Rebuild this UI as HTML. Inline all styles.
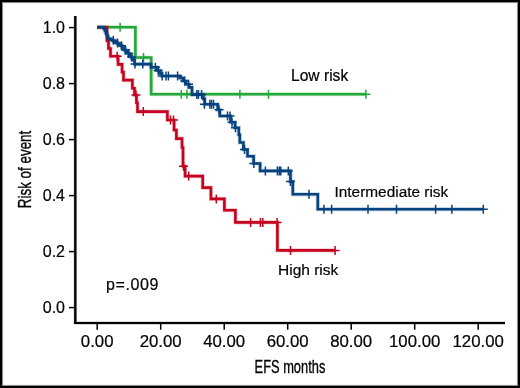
<!DOCTYPE html>
<html><head><meta charset="utf-8"><style>
html,body{margin:0;padding:0;background:#fff;}
.wrap{position:relative;width:520px;height:388px;overflow:hidden;background:#000;}
svg{position:absolute;left:0;top:0;}
.tx{will-change:transform;}
.t{font-family:"Liberation Sans",sans-serif;font-size:16px;fill:#000;stroke:#000;stroke-width:0.2px;}
.c{font-family:"Liberation Sans",sans-serif;font-size:18px;fill:#000;stroke:#000;stroke-width:0.35px;}
</style></head><body><div class="wrap">
<svg width="520" height="388" viewBox="0 0 520 388">
<g>
<rect x="0" y="0" width="520" height="388" fill="#000"/>
<rect x="2" y="2" width="516" height="384" fill="#8c8c8c"/>
<rect x="3" y="3" width="514" height="382" fill="#f6f6f6"/>
<rect x="4" y="4" width="512" height="380" fill="#fff"/>
<path d="M75.3,16V324M74.2,323H505" stroke="#000" stroke-width="3.6" fill="none" opacity="0.2"/>
<path d="M75.3,16V324" stroke="#000" stroke-width="2.3" fill="none"/>
<path d="M74.2,323H505" stroke="#000" stroke-width="2" fill="none"/>
<path d="M69,307.6H75" stroke="#000" stroke-width="1.5"/>
<path d="M69,251.6H75" stroke="#000" stroke-width="1.5"/>
<path d="M69,195.6H75" stroke="#000" stroke-width="1.5"/>
<path d="M69,139.6H75" stroke="#000" stroke-width="1.5"/>
<path d="M69,83.6H75" stroke="#000" stroke-width="1.5"/>
<path d="M69,27.6H75" stroke="#000" stroke-width="1.5"/>
<path d="M97.2,323V329.7" stroke="#000" stroke-width="1.5"/>
<path d="M160.7,323V329.7" stroke="#000" stroke-width="1.5"/>
<path d="M224.2,323V329.7" stroke="#000" stroke-width="1.5"/>
<path d="M287.7,323V329.7" stroke="#000" stroke-width="1.5"/>
<path d="M351.2,323V329.7" stroke="#000" stroke-width="1.5"/>
<path d="M414.7,323V329.7" stroke="#000" stroke-width="1.5"/>
<path d="M478.2,323V329.7" stroke="#000" stroke-width="1.5"/>
<path d="M97,27.2H135.4V57.5H151.2V94.2H365.9" stroke="#24a83a" stroke-width="4.2" fill="none" opacity="0.22" stroke-linejoin="miter" stroke-linecap="butt"/><path d="M97,27.2H135.4V57.5H151.2V94.2H365.9" stroke="#24a83a" stroke-width="2.6" fill="none" stroke-linejoin="miter" stroke-linecap="butt"/>
<path d="M115.60,27.20H124.60M120.10,22.70V31.70" stroke="#24a83a" stroke-width="1.5" fill="none"/>
<path d="M139.00,57.50H148.00M143.50,53.00V62.00" stroke="#24a83a" stroke-width="1.5" fill="none"/>
<path d="M176.80,94.20H185.80M181.30,89.70V98.70" stroke="#24a83a" stroke-width="1.5" fill="none"/>
<path d="M182.40,94.20H191.40M186.90,89.70V98.70" stroke="#24a83a" stroke-width="1.5" fill="none"/>
<path d="M235.40,94.20H244.40M239.90,89.70V98.70" stroke="#24a83a" stroke-width="1.5" fill="none"/>
<path d="M264.00,94.20H273.00M268.50,89.70V98.70" stroke="#24a83a" stroke-width="1.5" fill="none"/>
<path d="M361.40,94.20H370.40M365.90,89.70V98.70" stroke="#24a83a" stroke-width="1.5" fill="none"/>
<path d="M97,27.2H107V40.8H108.5V48.5H110.5V56.2H118.1V64.4H122.1V72H123.5V80.1H132.4V88.2H134.5V95H136.5V102.7H137.5V111.6H167.4V120H174.1V130H176.4V138.6H182V147.5H183V166.3H185.1V176.1H202.7V187.6H210.9V198.9H224.4V210.2H235.4V222.4H277.4V250.4H335.1" stroke="#c3031f" stroke-width="4.2" fill="none" opacity="0.22" stroke-linejoin="miter" stroke-linecap="butt"/><path d="M97,27.2H107V40.8H108.5V48.5H110.5V56.2H118.1V64.4H122.1V72H123.5V80.1H132.4V88.2H134.5V95H136.5V102.7H137.5V111.6H167.4V120H174.1V130H176.4V138.6H182V147.5H183V166.3H185.1V176.1H202.7V187.6H210.9V198.9H224.4V210.2H235.4V222.4H277.4V250.4H335.1" stroke="#c3031f" stroke-width="2.6" fill="none" stroke-linejoin="miter" stroke-linecap="butt"/>
<path d="M112.70,56.20H121.70M117.20,51.70V60.70" stroke="#c3031f" stroke-width="1.5" fill="none"/>
<path d="M131.50,95.00H140.50M136.00,90.50V99.50" stroke="#c3031f" stroke-width="1.5" fill="none"/>
<path d="M138.80,111.60H147.80M143.30,107.10V116.10" stroke="#c3031f" stroke-width="1.5" fill="none"/>
<path d="M166.00,120.00H175.00M170.50,115.50V124.50" stroke="#c3031f" stroke-width="1.5" fill="none"/>
<path d="M169.00,120.00H178.00M173.50,115.50V124.50" stroke="#c3031f" stroke-width="1.5" fill="none"/>
<path d="M179.00,166.30H188.00M183.50,161.80V170.80" stroke="#c3031f" stroke-width="1.5" fill="none"/>
<path d="M184.20,176.10H193.20M188.70,171.60V180.60" stroke="#c3031f" stroke-width="1.5" fill="none"/>
<path d="M211.80,198.90H220.80M216.30,194.40V203.40" stroke="#c3031f" stroke-width="1.5" fill="none"/>
<path d="M246.10,222.40H255.10M250.60,217.90V226.90" stroke="#c3031f" stroke-width="1.5" fill="none"/>
<path d="M255.90,222.40H264.90M260.40,217.90V226.90" stroke="#c3031f" stroke-width="1.5" fill="none"/>
<path d="M258.30,222.40H267.30M262.80,217.90V226.90" stroke="#c3031f" stroke-width="1.5" fill="none"/>
<path d="M272.60,222.40H281.60M277.10,217.90V226.90" stroke="#c3031f" stroke-width="1.5" fill="none"/>
<path d="M286.00,250.40H295.00M290.50,245.90V254.90" stroke="#c3031f" stroke-width="1.5" fill="none"/>
<path d="M330.60,250.40H339.60M335.10,245.90V254.90" stroke="#c3031f" stroke-width="1.5" fill="none"/>
<path d="M97,27.2H104V29H105V31H106V33.5H107V36H108V38.5H109.40V39.05H110.80V39.66H112.20V40.43H113.60V41.20H115.00V41.97H116.40V42.84H117.80V43.78H119.20V44.72H120.60V45.67H122.00V47.17H123.40V48.76H124.80V50.33H126.20V51.82H127.60V53.31H129.00V54.89H130.40V56.47H131.80V58.17H133.20V59.89H134.60V64.10H135.20V64.10H151V67.3H157.5V70.5H160V73.5H162V76H180V78H183V81H186V84.3H189V87.4H192V94.6H203.3V98.7H204.7V104.3H217.7V109.8H219.8V116H230.6V122.2H235V127.8H238.8V134.8H239.8V142.5H243.4V149.5H247.5V156.2H253.6V163.5H260.1V170.9H290.5V181.6H292.8V194.3H317.8V209.2H483.3" stroke="#06427e" stroke-width="4.2" fill="none" opacity="0.22" stroke-linejoin="miter" stroke-linecap="butt"/><path d="M97,27.2H104V29H105V31H106V33.5H107V36H108V38.5H109.40V39.05H110.80V39.66H112.20V40.43H113.60V41.20H115.00V41.97H116.40V42.84H117.80V43.78H119.20V44.72H120.60V45.67H122.00V47.17H123.40V48.76H124.80V50.33H126.20V51.82H127.60V53.31H129.00V54.89H130.40V56.47H131.80V58.17H133.20V59.89H134.60V64.10H135.20V64.10H151V67.3H157.5V70.5H160V73.5H162V76H180V78H183V81H186V84.3H189V87.4H192V94.6H203.3V98.7H204.7V104.3H217.7V109.8H219.8V116H230.6V122.2H235V127.8H238.8V134.8H239.8V142.5H243.4V149.5H247.5V156.2H253.6V163.5H260.1V170.9H290.5V181.6H292.8V194.3H317.8V209.2H483.3" stroke="#06427e" stroke-width="2.6" fill="none" stroke-linejoin="miter" stroke-linecap="butt"/>
<path d="M108.80,40.30H117.80M113.30,35.80V44.80" stroke="#06427e" stroke-width="1.5" fill="none"/>
<path d="M113.00,42.90H122.00M117.50,38.40V47.40" stroke="#06427e" stroke-width="1.5" fill="none"/>
<path d="M117.00,45.80H126.00M121.50,41.30V50.30" stroke="#06427e" stroke-width="1.5" fill="none"/>
<path d="M121.00,50.00H130.00M125.50,45.50V54.50" stroke="#06427e" stroke-width="1.5" fill="none"/>
<path d="M124.20,53.40H133.20M128.70,48.90V57.90" stroke="#06427e" stroke-width="1.5" fill="none"/>
<path d="M127.10,57.00H136.10M131.60,52.50V61.50" stroke="#06427e" stroke-width="1.5" fill="none"/>
<path d="M130.50,64.10H139.50M135.00,59.60V68.60" stroke="#06427e" stroke-width="1.5" fill="none"/>
<path d="M138.30,64.10H147.30M142.80,59.60V68.60" stroke="#06427e" stroke-width="1.5" fill="none"/>
<path d="M150.90,67.30H159.90M155.40,62.80V71.80" stroke="#06427e" stroke-width="1.5" fill="none"/>
<path d="M153.70,70.50H162.70M158.20,66.00V75.00" stroke="#06427e" stroke-width="1.5" fill="none"/>
<path d="M157.70,76.00H166.70M162.20,71.50V80.50" stroke="#06427e" stroke-width="1.5" fill="none"/>
<path d="M161.50,76.00H170.50M166.00,71.50V80.50" stroke="#06427e" stroke-width="1.5" fill="none"/>
<path d="M163.90,76.00H172.90M168.40,71.50V80.50" stroke="#06427e" stroke-width="1.5" fill="none"/>
<path d="M173.10,76.00H182.10M177.60,71.50V80.50" stroke="#06427e" stroke-width="1.5" fill="none"/>
<path d="M180.20,81.00H189.20M184.70,76.50V85.50" stroke="#06427e" stroke-width="1.5" fill="none"/>
<path d="M184.00,84.30H193.00M188.50,79.80V88.80" stroke="#06427e" stroke-width="1.5" fill="none"/>
<path d="M192.30,94.60H201.30M196.80,90.10V99.10" stroke="#06427e" stroke-width="1.5" fill="none"/>
<path d="M193.90,94.60H202.90M198.40,90.10V99.10" stroke="#06427e" stroke-width="1.5" fill="none"/>
<path d="M197.10,94.60H206.10M201.60,90.10V99.10" stroke="#06427e" stroke-width="1.5" fill="none"/>
<path d="M199.90,104.30H208.90M204.40,99.80V108.80" stroke="#06427e" stroke-width="1.5" fill="none"/>
<path d="M205.40,104.30H214.40M209.90,99.80V108.80" stroke="#06427e" stroke-width="1.5" fill="none"/>
<path d="M207.00,104.30H216.00M211.50,99.80V108.80" stroke="#06427e" stroke-width="1.5" fill="none"/>
<path d="M209.00,104.30H218.00M213.50,99.80V108.80" stroke="#06427e" stroke-width="1.5" fill="none"/>
<path d="M214.50,109.80H223.50M219.00,105.30V114.30" stroke="#06427e" stroke-width="1.5" fill="none"/>
<path d="M223.00,116.00H232.00M227.50,111.50V120.50" stroke="#06427e" stroke-width="1.5" fill="none"/>
<path d="M225.50,116.00H234.50M230.00,111.50V120.50" stroke="#06427e" stroke-width="1.5" fill="none"/>
<path d="M227.50,122.20H236.50M232.00,117.70V126.70" stroke="#06427e" stroke-width="1.5" fill="none"/>
<path d="M231.00,127.80H240.00M235.50,123.30V132.30" stroke="#06427e" stroke-width="1.5" fill="none"/>
<path d="M240.00,149.50H249.00M244.50,145.00V154.00" stroke="#06427e" stroke-width="1.5" fill="none"/>
<path d="M249.30,163.50H258.30M253.80,159.00V168.00" stroke="#06427e" stroke-width="1.5" fill="none"/>
<path d="M260.90,170.90H269.90M265.40,166.40V175.40" stroke="#06427e" stroke-width="1.5" fill="none"/>
<path d="M272.90,170.90H281.90M277.40,166.40V175.40" stroke="#06427e" stroke-width="1.5" fill="none"/>
<path d="M274.80,170.90H283.80M279.30,166.40V175.40" stroke="#06427e" stroke-width="1.5" fill="none"/>
<path d="M276.30,170.90H285.30M280.80,166.40V175.40" stroke="#06427e" stroke-width="1.5" fill="none"/>
<path d="M283.80,170.90H292.80M288.30,166.40V175.40" stroke="#06427e" stroke-width="1.5" fill="none"/>
<path d="M285.90,181.60H294.90M290.40,177.10V186.10" stroke="#06427e" stroke-width="1.5" fill="none"/>
<path d="M304.50,194.30H313.50M309.00,189.80V198.80" stroke="#06427e" stroke-width="1.5" fill="none"/>
<path d="M319.40,209.20H328.40M323.90,204.70V213.70" stroke="#06427e" stroke-width="1.5" fill="none"/>
<path d="M327.10,209.20H336.10M331.60,204.70V213.70" stroke="#06427e" stroke-width="1.5" fill="none"/>
<path d="M363.50,209.20H372.50M368.00,204.70V213.70" stroke="#06427e" stroke-width="1.5" fill="none"/>
<path d="M392.00,209.20H401.00M396.50,204.70V213.70" stroke="#06427e" stroke-width="1.5" fill="none"/>
<path d="M431.10,209.20H440.10M435.60,204.70V213.70" stroke="#06427e" stroke-width="1.5" fill="none"/>
<path d="M447.40,209.20H456.40M451.90,204.70V213.70" stroke="#06427e" stroke-width="1.5" fill="none"/>
<path d="M478.80,209.20H487.80M483.30,204.70V213.70" stroke="#06427e" stroke-width="1.5" fill="none"/>
<g class="tx"><text x="65" y="313.2" text-anchor="end" class="t">0.0</text>
<text x="65" y="257.2" text-anchor="end" class="t">0.2</text>
<text x="65" y="201.2" text-anchor="end" class="t">0.4</text>
<text x="65" y="145.2" text-anchor="end" class="t">0.6</text>
<text x="65" y="89.2" text-anchor="end" class="t">0.8</text>
<text x="65" y="33.2" text-anchor="end" class="t">1.0</text>
<text x="0" y="0" text-anchor="middle" class="t" transform="translate(97.2,346.5) scale(1.05,1)">0.00</text>
<text x="0" y="0" text-anchor="middle" class="t" transform="translate(160.7,346.5) scale(1.05,1)">20.00</text>
<text x="0" y="0" text-anchor="middle" class="t" transform="translate(224.2,346.5) scale(1.05,1)">40.00</text>
<text x="0" y="0" text-anchor="middle" class="t" transform="translate(287.7,346.5) scale(1.05,1)">60.00</text>
<text x="0" y="0" text-anchor="middle" class="t" transform="translate(351.2,346.5) scale(1.05,1)">80.00</text>
<text x="0" y="0" text-anchor="middle" class="t" transform="translate(414.7,346.5) scale(1.05,1)">100.00</text>
<text x="0" y="0" text-anchor="middle" class="t" transform="translate(478.2,346.5) scale(1.05,1)">120.00</text>
<text x="291" y="81" class="t" style="font-size:15.6px">Low risk</text>
<text x="334.5" y="196.8" class="t" style="font-size:15.4px">Intermediate risk</text>
<text x="278" y="274.6" class="t" style="font-size:15.5px">High risk</text>
<text x="106" y="290" class="t" style="letter-spacing:0.6px">p=.009</text>
<text x="0" y="0" class="c" transform="translate(254.6,372.8) scale(0.715,1)">EFS months</text>
<text x="0" y="0" class="c" transform="translate(30.8,208.2) rotate(-90) scale(0.745,1)">Risk of event</text></g>
</g>
</svg></div></body></html>
